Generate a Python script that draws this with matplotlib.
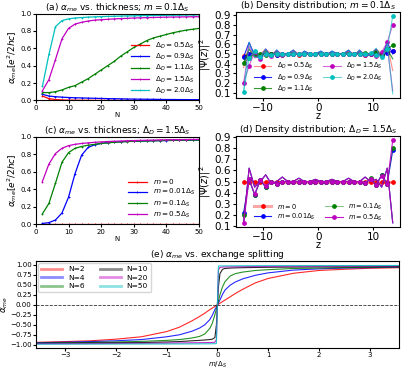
import numpy as np
import matplotlib
matplotlib.use("Agg")
import matplotlib.pyplot as plt

# ---------------- data ----------------
N = [2, 4, 6, 8, 10, 12, 14, 16, 18, 20, 22, 24, 26, 28, 30, 32, 34, 36, 38, 40, 42, 44, 46, 48, 50]

# (a) alpha_me vs thickness, m = 0.1 Delta_S
a_labels = [r"$\Delta_D=0.5\Delta_S$", r"$\Delta_D=0.9\Delta_S$", r"$\Delta_D=1.1\Delta_S$",
            r"$\Delta_D=1.5\Delta_S$", r"$\Delta_D=2.0\Delta_S$"]
a_d05 = [0.05, 0.02, 0.01, 0.005, 0.003, 0.002, 0.001, 0.001, 0, 0, 0, 0, 0, 0, 0, 0, 0, 0, 0, 0, 0, 0, 0, 0, 0]
a_d09 = [0.07, 0.05, 0.042, 0.037, 0.033, 0.03, 0.028, 0.026, 0.024, 0.022, 0.02, 0.019, 0.018, 0.016, 0.015,
         0.014, 0.013, 0.012, 0.011, 0.01, 0.01, 0.009, 0.009, 0.008, 0.008]
a_d11 = [0.09, 0.09, 0.10, 0.12, 0.15, 0.17, 0.21, 0.25, 0.30, 0.35, 0.40, 0.45, 0.51, 0.56, 0.61, 0.65, 0.69,
         0.72, 0.74, 0.76, 0.78, 0.795, 0.81, 0.82, 0.83]
a_d15 = [0.11, 0.24, 0.47, 0.71, 0.83, 0.88, 0.90, 0.915, 0.925, 0.93, 0.935, 0.94, 0.943, 0.946, 0.95, 0.952,
         0.954, 0.956, 0.958, 0.96, 0.961, 0.962, 0.963, 0.964, 0.965]
a_d20 = [0.16, 0.53, 0.85, 0.92, 0.94, 0.95, 0.955, 0.96, 0.963, 0.966, 0.968, 0.97, 0.972, 0.974, 0.975, 0.977,
         0.978, 0.979, 0.98, 0.981, 0.982, 0.983, 0.984, 0.985, 0.985]

# (c) alpha_me vs thickness, Delta_D = 1.5 Delta_S
c_labels = [r"$m=0$", r"$m=0.01\Delta_S$", r"$m=0.1\Delta_S$", r"$m=0.5\Delta_S$"]
c_m0 = [0] * 25
c_m001 = [0.01, 0.02, 0.05, 0.13, 0.31, 0.58, 0.79, 0.88, 0.91, 0.925, 0.935, 0.94, 0.945, 0.948, 0.95, 0.952,
          0.954, 0.956, 0.957, 0.958, 0.96, 0.961, 0.962, 0.963, 0.964]
c_m01 = [0.12, 0.24, 0.47, 0.71, 0.82, 0.87, 0.89, 0.905, 0.915, 0.925, 0.932, 0.938, 0.943, 0.946, 0.95, 0.952,
         0.954, 0.956, 0.958, 0.96, 0.961, 0.962, 0.963, 0.964, 0.965]
c_m05 = [0.49, 0.69, 0.81, 0.87, 0.90, 0.915, 0.925, 0.932, 0.938, 0.943, 0.947, 0.95, 0.953, 0.956, 0.958,
         0.96, 0.962, 0.964, 0.966, 0.967, 0.968, 0.969, 0.97, 0.971, 0.972]

# (b) density distribution, m = 0.1 Delta_S  (two traces per case)
z = [-13.5, -12.5, -11.5, -10.5, -9.5, -8.5, -7.5, -6.5, -5.5, -4.5, -3.5, -2.5, -1.5, -0.5,
     0.5, 1.5, 2.5, 3.5, 4.5, 5.5, 6.5, 7.5, 8.5, 9.5, 10.5, 11.5, 12.5, 13.5]
b_d05_A = [0.48, 0.50, 0.50, 0.49, 0.50, 0.50, 0.49, 0.50, 0.50, 0.50, 0.49, 0.50, 0.50, 0.50,
           0.50, 0.50, 0.50, 0.50, 0.50, 0.50, 0.50, 0.50, 0.49, 0.50, 0.50, 0.50, 0.52, 0.53]
b_d05_B = [0.36, 0.61, 0.50, 0.50, 0.55, 0.50, 0.53, 0.50, 0.50, 0.54, 0.50, 0.52, 0.50, 0.50,
           0.52, 0.50, 0.52, 0.50, 0.50, 0.53, 0.50, 0.53, 0.50, 0.50, 0.55, 0.50, 0.60, 0.33]
b_d09_A = [0.47, 0.50, 0.51, 0.49, 0.50, 0.50, 0.49, 0.50, 0.50, 0.50, 0.50, 0.50, 0.50, 0.50,
           0.50, 0.50, 0.50, 0.50, 0.50, 0.50, 0.50, 0.50, 0.50, 0.50, 0.50, 0.49, 0.51, 0.53]
b_d09_B = [0.47, 0.62, 0.48, 0.46, 0.55, 0.47, 0.54, 0.48, 0.50, 0.54, 0.48, 0.53, 0.50, 0.50,
           0.53, 0.49, 0.53, 0.50, 0.50, 0.54, 0.48, 0.54, 0.48, 0.49, 0.55, 0.46, 0.62, 0.50]
b_d11_A = [0.41, 0.46, 0.50, 0.50, 0.49, 0.50, 0.50, 0.49, 0.50, 0.50, 0.50, 0.50, 0.50, 0.50,
           0.50, 0.50, 0.50, 0.50, 0.50, 0.50, 0.50, 0.50, 0.51, 0.50, 0.52, 0.50, 0.55, 0.59]
b_d11_B = [0.41, 0.55, 0.47, 0.48, 0.53, 0.49, 0.52, 0.49, 0.50, 0.52, 0.49, 0.51, 0.50, 0.50,
           0.51, 0.50, 0.51, 0.50, 0.50, 0.52, 0.49, 0.52, 0.49, 0.50, 0.53, 0.48, 0.55, 0.45]
b_d15_A = [0.20, 0.38, 0.52, 0.45, 0.50, 0.48, 0.50, 0.49, 0.50, 0.50, 0.50, 0.50, 0.50, 0.50,
           0.50, 0.50, 0.50, 0.50, 0.50, 0.50, 0.50, 0.50, 0.49, 0.50, 0.48, 0.52, 0.62, 0.80]
b_d15_B = [0.20, 0.58, 0.46, 0.47, 0.55, 0.47, 0.54, 0.48, 0.50, 0.53, 0.48, 0.52, 0.50, 0.50,
           0.52, 0.49, 0.52, 0.50, 0.50, 0.53, 0.48, 0.53, 0.48, 0.50, 0.55, 0.45, 0.58, 0.12]
b_d20_A = [0.11, 0.46, 0.53, 0.47, 0.50, 0.49, 0.50, 0.50, 0.50, 0.50, 0.50, 0.50, 0.50, 0.50,
           0.50, 0.50, 0.50, 0.50, 0.50, 0.50, 0.50, 0.50, 0.50, 0.51, 0.49, 0.47, 0.55, 0.89]
b_d20_B = [0.11, 0.62, 0.47, 0.47, 0.55, 0.47, 0.54, 0.48, 0.50, 0.54, 0.48, 0.53, 0.50, 0.50,
           0.53, 0.49, 0.53, 0.50, 0.50, 0.54, 0.48, 0.54, 0.48, 0.49, 0.56, 0.45, 0.61, 0.09]

# (d) density distribution, Delta_D = 1.5 Delta_S
d_m0 = [0.50] * 28
d_m001_A = [0.22, 0.52, 0.38, 0.51, 0.45, 0.50, 0.48, 0.50, 0.50, 0.50, 0.50, 0.50, 0.50, 0.50,
            0.50, 0.50, 0.50, 0.50, 0.50, 0.50, 0.50, 0.50, 0.49, 0.52, 0.47, 0.56, 0.48, 0.78]
d_m001_B = [0.13, 0.62, 0.45, 0.50, 0.56, 0.48, 0.50, 0.54, 0.50, 0.50, 0.53, 0.50, 0.50, 0.52,
            0.50, 0.50, 0.52, 0.50, 0.50, 0.53, 0.50, 0.50, 0.54, 0.50, 0.52, 0.45, 0.62, 0.13]
d_m01_A = [0.20, 0.52, 0.38, 0.51, 0.45, 0.50, 0.48, 0.50, 0.50, 0.50, 0.50, 0.50, 0.50, 0.50,
           0.50, 0.50, 0.50, 0.50, 0.50, 0.50, 0.50, 0.50, 0.49, 0.53, 0.47, 0.56, 0.48, 0.80]
d_m01_B = [0.13, 0.62, 0.45, 0.50, 0.56, 0.48, 0.50, 0.54, 0.50, 0.50, 0.53, 0.50, 0.50, 0.52,
           0.50, 0.50, 0.52, 0.50, 0.50, 0.53, 0.50, 0.50, 0.54, 0.50, 0.52, 0.45, 0.62, 0.13]
d_m05_A = [0.13, 0.52, 0.39, 0.51, 0.46, 0.50, 0.48, 0.50, 0.50, 0.50, 0.50, 0.50, 0.50, 0.50,
           0.50, 0.50, 0.50, 0.50, 0.50, 0.50, 0.50, 0.50, 0.49, 0.52, 0.47, 0.55, 0.48, 0.87]
d_m05_B = [0.13, 0.62, 0.45, 0.50, 0.56, 0.48, 0.50, 0.54, 0.50, 0.50, 0.53, 0.50, 0.50, 0.52,
           0.50, 0.50, 0.52, 0.50, 0.50, 0.53, 0.50, 0.50, 0.54, 0.50, 0.52, 0.45, 0.62, 0.13]

# (e) alpha_me vs exchange splitting
m_e = [-3.6, -3.0, -2.5, -2.0, -1.5, -1.0, -0.75, -0.5, -0.35, -0.25, -0.15, -0.1, -0.05, -0.02, 0.0,
       0.02, 0.05, 0.1, 0.15, 0.25, 0.35, 0.5, 0.75, 1.0, 1.5, 2.0, 2.5, 3.0, 3.6]
e_labels = ["N=2", "N=4", "N=6", "N=10", "N=20", "N=50"]
e_N2 = [-0.94, -0.92, -0.9, -0.86, -0.8, -0.67, -0.56, -0.4, -0.29, -0.21, -0.12, -0.08, -0.04, -0.015, 0.0,
        0.015, 0.04, 0.08, 0.12, 0.2, 0.28, 0.39, 0.55, 0.66, 0.79, 0.86, 0.89, 0.915, 0.93]
e_N4 = [-0.95, -0.935, -0.92, -0.9, -0.87, -0.8, -0.75, -0.66, -0.58, -0.5, -0.37, -0.26, -0.12, -0.05, 0.0,
        0.05, 0.12, 0.26, 0.37, 0.49, 0.57, 0.65, 0.74, 0.8, 0.87, 0.9, 0.92, 0.93, 0.945]
e_N6 = [-0.96, -0.95, -0.94, -0.93, -0.915, -0.89, -0.87, -0.83, -0.79, -0.73, -0.59, -0.46, -0.25, -0.1, 0.0,
        0.1, 0.25, 0.45, 0.58, 0.72, 0.78, 0.82, 0.86, 0.88, 0.91, 0.92, 0.93, 0.94, 0.95]
e_N10 = [-0.965, -0.96, -0.955, -0.95, -0.945, -0.93, -0.92, -0.9, -0.89, -0.88, -0.87, -0.86, -0.82, -0.5, 0.0,
         0.45, 0.78, 0.89, 0.91, 0.92, 0.925, 0.93, 0.935, 0.94, 0.945, 0.95, 0.952, 0.954, 0.956]
e_N20 = [-0.975, -0.972, -0.97, -0.967, -0.963, -0.958, -0.955, -0.95, -0.948, -0.946, -0.944, -0.942, -0.935, -0.87, 0.0,
         0.87, 0.935, 0.945, 0.948, 0.95, 0.952, 0.955, 0.958, 0.96, 0.963, 0.966, 0.968, 0.97, 0.972]
e_N50 = [-0.985, -0.984, -0.983, -0.982, -0.981, -0.98, -0.979, -0.978, -0.977, -0.976, -0.975, -0.974, -0.973, -0.97, 0.0,
         0.97, 0.973, 0.974, 0.975, 0.976, 0.977, 0.978, 0.979, 0.98, 0.981, 0.982, 0.983, 0.984, 0.985]

# ---------------- figure ----------------
fig = plt.figure(figsize=(4.03, 3.69), dpi=100)

small = 5
title_fs = 6.5

# (a)
ax_a = fig.add_axes([0.089, 0.728, 0.405, 0.235])
for ys, col, lab in zip([a_d05, a_d09, a_d11, a_d15, a_d20], ["r", "b", "g", "m", "c"], a_labels):
    ax_a.plot(N, ys, color=col, marker="+", ms=2, mew=0.6, lw=0.9, label=lab)
ax_a.set_xlim(0, 50)
ax_a.set_ylim(0, 1.0)
ax_a.set_title(r"(a) $\alpha_{me}$ vs. thickness; $m=0.1\Delta_S$", fontsize=title_fs, pad=2)
ax_a.set_ylabel(r"$\alpha_{me}[e^2/2hc]$", fontsize=6.5, labelpad=1)
ax_a.set_xlabel("N", fontsize=small, labelpad=1)
ax_a.tick_params(labelsize=small, length=2, pad=1)
ax_a.legend(loc="lower right", fontsize=5.2, frameon=False, handlelength=2.6, labelspacing=0.15,
            borderaxespad=0.2)

# (b)
ax_b = fig.add_axes([0.586, 0.735, 0.407, 0.232])
b_sets = [(b_d05_A, b_d05_B, "r", 0.45), (b_d09_A, b_d09_B, "b", 0.85), (b_d11_A, b_d11_B, "g", 0.8),
          (b_d15_A, b_d15_B, "m", 0.6), (b_d20_A, b_d20_B, "c", 0.6)]
for (A, B, col, al), lab in zip(b_sets, a_labels):
    ax_b.plot(z, B, color=col, alpha=al, lw=0.8)
    line, = ax_b.plot(z, A, color=col, lw=0.8, marker="o", ms=2.4, label=lab)
    line.set_color(matplotlib.colors.to_rgba(col, al))
    line.set_markerfacecolor(col)
    line.set_markeredgecolor(col)
ax_b.set_title(r"(b) Density distribution; $m=0.1\Delta_S$", fontsize=title_fs, pad=2)
ax_b.set_ylabel(r"$|\Psi(z)|^2$", fontsize=7, labelpad=1)
ax_b.set_xlabel("z", fontsize=7, labelpad=-1)
ax_b.set_yticks([0.1, 0.2, 0.3, 0.4, 0.5, 0.6, 0.7, 0.8, 0.9])
ax_b.tick_params(labelsize=7.5, length=2.5, pad=1)
ax_b.legend(loc="lower center", ncol=2, fontsize=4.8, frameon=False, handlelength=2.6,
            labelspacing=0.15, columnspacing=1.5, borderaxespad=0.2)

# (c)
ax_c = fig.add_axes([0.089, 0.392, 0.405, 0.237])
for ys, col, lab in zip([c_m0, c_m001, c_m01, c_m05], ["r", "b", "g", "m"], c_labels):
    ax_c.plot(N, ys, color=col, marker="+", ms=2, mew=0.6, lw=0.9, label=lab)
ax_c.set_xlim(0, 50)
ax_c.set_ylim(0, 1.0)
ax_c.set_title(r"(c) $\alpha_{me}$ vs. thickness; $\Delta_D=1.5\Delta_S$", fontsize=title_fs, pad=2)
ax_c.set_ylabel(r"$\alpha_{me}[e^2/2hc]$", fontsize=6.5, labelpad=1)
ax_c.set_xlabel("N", fontsize=small, labelpad=1)
ax_c.tick_params(labelsize=small, length=2, pad=1)
ax_c.legend(loc="lower right", fontsize=5.2, frameon=False, handlelength=2.6, labelspacing=0.15,
            borderaxespad=0.2)

# (d)
ax_d = fig.add_axes([0.586, 0.385, 0.407, 0.246])
d_sets = [(d_m0, d_m0, "r", 0.35), (d_m001_A, d_m001_B, "b", 0.9), (d_m01_A, d_m01_B, "g", 0.45),
          (d_m05_A, d_m05_B, "m", 0.9)]
for (A, B, col, al), lab in zip(d_sets, c_labels):
    ax_d.plot(z, B, color=col, alpha=al, lw=0.8)
    line, = ax_d.plot(z, A, color=col, lw=0.8 if col != "r" else 2.2, marker="o", ms=2.4, label=lab)
    line.set_color(matplotlib.colors.to_rgba(col, al))
    line.set_markerfacecolor(col)
    line.set_markeredgecolor(col)
ax_d.set_title(r"(d) Density distribution; $\Delta_D=1.5\Delta_S$", fontsize=title_fs, pad=1.5)
ax_d.set_ylabel(r"$|\Psi(z)|^2$", fontsize=7, labelpad=1)
ax_d.set_xlabel("z", fontsize=7, labelpad=-1)
ax_d.set_yticks([0.1, 0.2, 0.3, 0.4, 0.5, 0.6, 0.7, 0.8, 0.9])
ax_d.tick_params(labelsize=7.5, length=2.5, pad=1)
ax_d.legend(loc="lower center", ncol=2, fontsize=4.8, frameon=False, handlelength=2.6,
            labelspacing=0.15, columnspacing=1.5, borderaxespad=0.2)

# (e)
ax_e = fig.add_axes([0.089, 0.057, 0.901, 0.236])
for ys, col, lab in zip([e_N2, e_N4, e_N6, e_N10, e_N20, e_N50], ["r", "b", "g", "k", "m", "c"], e_labels):
    ax_e.plot(m_e, ys, color=col, lw=0.8, alpha=0.85, label=lab)
ax_e.axhline(0, color="k", ls="--", lw=0.6, alpha=0.8)
ax_e.set_xlim(-3.58, 3.58)
ax_e.set_ylim(-1.08, 1.1)
ax_e.set_yticks([-1.0, -0.75, -0.5, -0.25, 0.0, 0.25, 0.5, 0.75, 1.0])
ax_e.set_title(r"(e) $\alpha_{me}$ vs. exchange splitting", fontsize=title_fs, pad=2)
ax_e.set_ylabel(r"$\alpha_{me}$", fontsize=6.2, labelpad=0)
ax_e.set_xlabel(r"$m/\Delta_S$", fontsize=small, labelpad=1)
ax_e.tick_params(labelsize=small, length=2, pad=1)
leg = ax_e.legend(loc="upper left", ncol=2, fontsize=5.4, handlelength=2.8, labelspacing=0.3,
                  columnspacing=2.0, borderaxespad=0.3)
for h in leg.get_lines():
    h.set_linewidth(2.0)
    h.set_alpha(0.45)

fig.savefig("out.png", dpi=100)
